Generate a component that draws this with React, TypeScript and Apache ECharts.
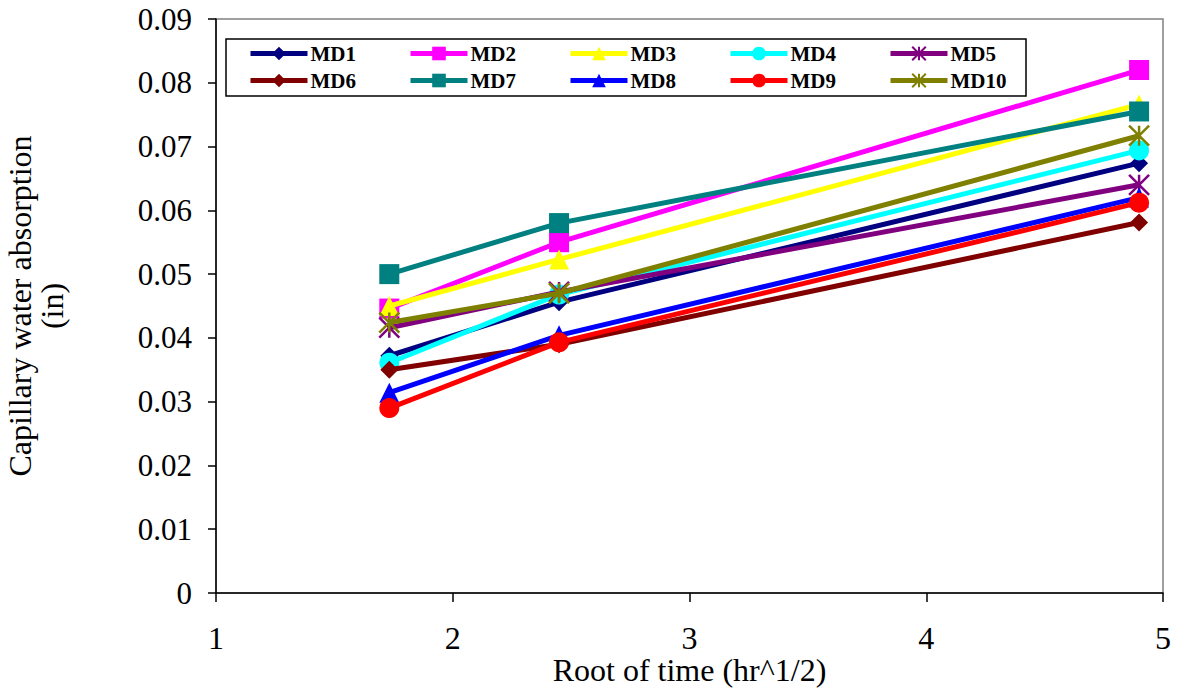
import React, { useEffect, useRef } from "react";
import * as echarts from "echarts";

const xValues = [1.732, 2.449, 4.899];
const seriesNames = ["MD1", "MD2", "MD3", "MD4", "MD5", "MD6", "MD7", "MD8", "MD9", "MD10"];
const md1 = [0.0372, 0.0456, 0.0674];
const md2 = [0.0446, 0.055, 0.082];
const md3 = [0.045, 0.0523, 0.0766];
const md4 = [0.0361, 0.0468, 0.0694];
const md5 = [0.0416, 0.0472, 0.064];
const md6 = [0.035, 0.039, 0.0581];
const md7 = [0.05, 0.058, 0.0755];
const md8 = [0.0314, 0.0404, 0.062];
const md9 = [0.029, 0.0393, 0.0612];
const md10 = [0.0424, 0.047, 0.0717];
const seriesValues = [md1, md2, md3, md4, md5, md6, md7, md8, md9, md10];
const colors = ["#000080", "#FF00FF", "#FFFF00", "#00FFFF", "#800080", "#800000", "#008080", "#0000FF", "#FF0000", "#808000"];
const STAR = "path://M0 0 L10 10 M10 0 L0 10 M5 0 L5 10";
const symbols = ["diamond", "rect", "triangle", "circle", STAR, "diamond", "rect", "triangle", "circle", STAR];
const symbolSizes = [18, 20, 20, 20, 20, 18, 20, 20, 20, 20];

const FONT = "'Liberation Serif', 'Times New Roman', serif";

export default function App() {
  const ref = useRef<HTMLDivElement>(null);
  useEffect(() => {
    document.body.style.margin = "0";
    const chart = echarts.init(ref.current!, null, { renderer: "svg" });
    const series = seriesNames.map((name, i) => ({
      name,
      type: "line",
      data: xValues.map((x, j) => [x, seriesValues[i][j]]),
      symbol: symbols[i],
      symbolSize: symbolSizes[i],
      lineStyle: { color: colors[i], width: 5 },
      itemStyle: {
        color: colors[i],
        borderColor: colors[i],
        borderWidth: symbols[i] === STAR ? 2.5 : 0,
      },
      z: 2 + i,
    }));
    const legends = seriesNames.map((name, i) => ({
      data: [name],
      left: 248 + 160 * (i % 5),
      top: i < 5 ? 43 : 70,
      itemWidth: 57,
      itemHeight: 17,
      itemGap: 0,
      padding: 0,
      z: 30,
      lineStyle: { width: 5 },
      textStyle: { fontFamily: FONT, fontWeight: "bold", fontSize: 21, color: "#000", padding: [0, 0, 0, -2] },
      selectedMode: false,
    }));
    chart.setOption({
      animation: false,
      backgroundColor: "#fff",
      grid: {
        left: 216,
        right: 15,
        top: 19,
        bottom: 98,
        show: true,
        borderColor: "#808080",
        borderWidth: 1.5,
        outerBoundsMode: "none",
      },
      legend: legends,
      graphic: [
        {
          type: "rect",
          shape: { x: 226, y: 39, width: 800, height: 57 },
          style: { fill: "#fff", stroke: "#000", lineWidth: 1.5 },
          z: 20,
          silent: true,
        },
      ],
      xAxis: {
        type: "value",
        min: 1,
        max: 5,
        interval: 1,
        name: "Root of time (hr^1/2)",
        nameLocation: "middle",
        nameGap: 64,
        nameMoveOverlap: false,
        nameTextStyle: { fontFamily: FONT, fontSize: 32, color: "#000", lineHeight: 26 },
        axisLine: { show: true, lineStyle: { color: "#000", width: 1.5 } },
        axisTick: { show: true, inside: false, length: 9, lineStyle: { color: "#000", width: 1.5 } },
        axisLabel: { fontFamily: FONT, fontSize: 32, color: "#000", margin: 32, lineHeight: 26 },
        splitLine: { show: false },
      },
      yAxis: {
        type: "value",
        min: 0,
        max: 0.09,
        interval: 0.01,
        name: "Capillary water absorption\n(in)",
        nameLocation: "middle",
        nameRotate: 90,
        nameGap: 148,
        nameMoveOverlap: false,
        nameTextStyle: { fontFamily: FONT, fontSize: 32, color: "#000", lineHeight: 32 },
        axisLine: { show: true, lineStyle: { color: "#000", width: 1.5 } },
        axisTick: { show: true, inside: false, length: 8, lineStyle: { color: "#000", width: 1.5 } },
        axisLabel: {
          fontFamily: FONT,
          fontSize: 31,
          color: "#000",
          margin: 24,
          formatter: (v: number) => (v === 0 ? "0" : v.toFixed(2)),
        },
        splitLine: { show: false },
      },
      series,
    });
    return () => chart.dispose();
  }, []);
  return <div ref={ref} style={{ position: "absolute", left: 0, top: 0, width: 1178, height: 691 }} />;
}
